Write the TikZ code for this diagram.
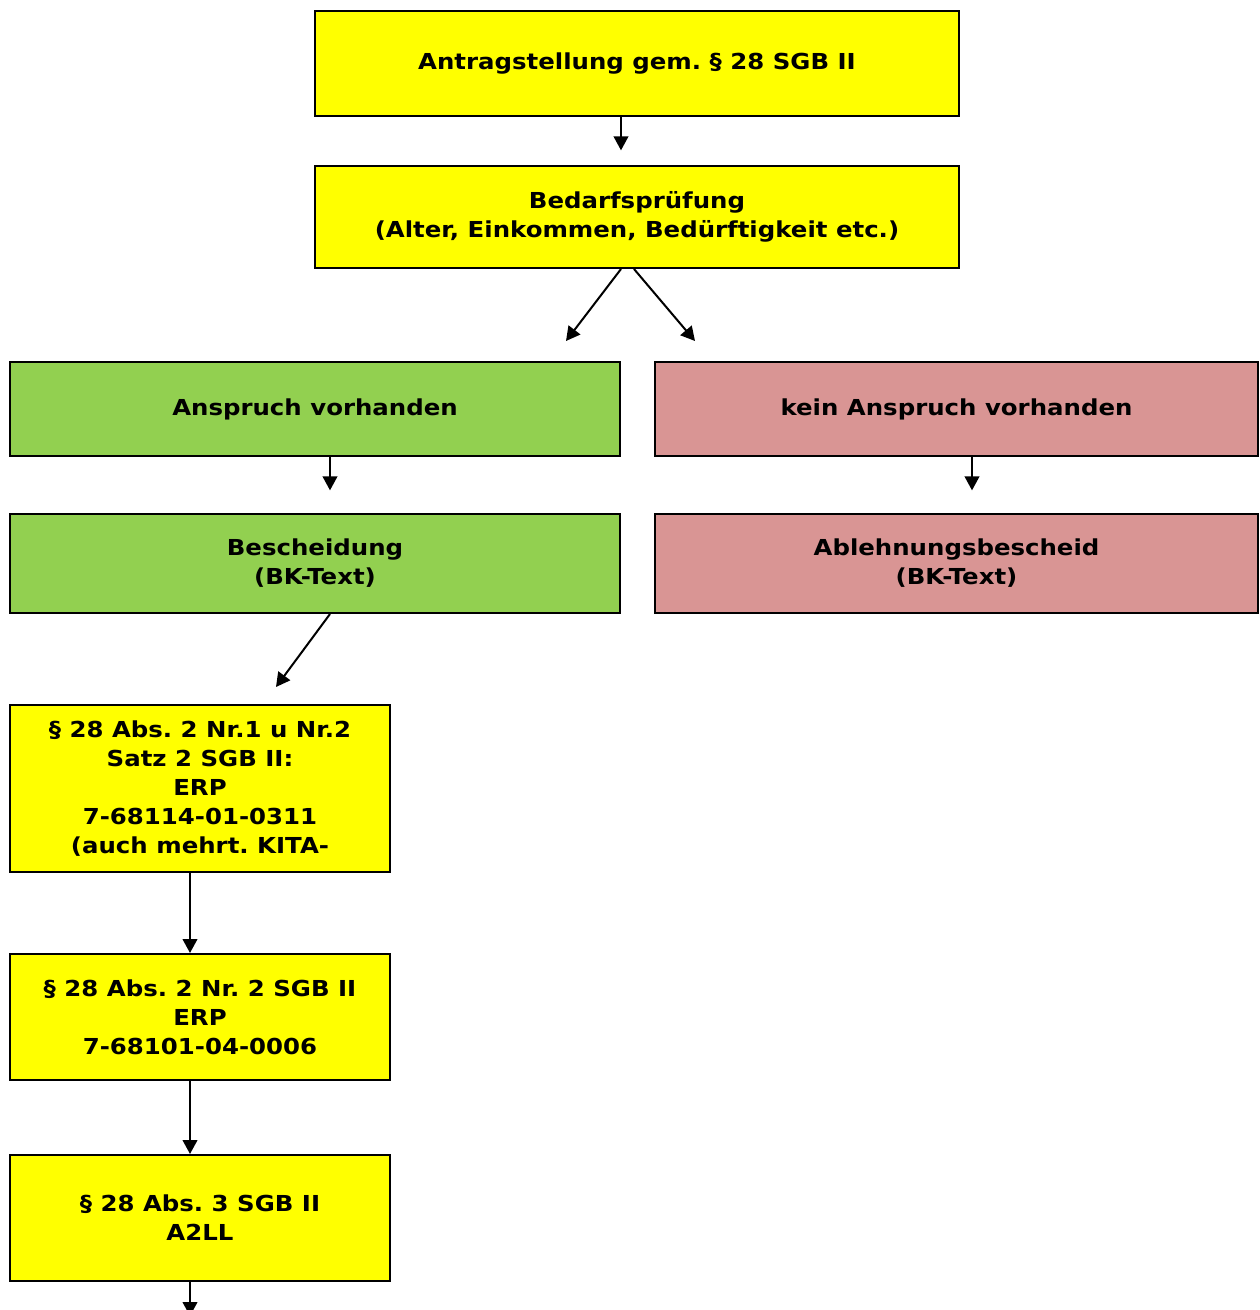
\documentclass[tikz,border=0pt]{standalone}
\usepackage{fontspec}
\setmainfont{DejaVu Sans}[FakeStretch=1.11]
\usepackage{xcolor}
\usetikzlibrary{positioning,arrows.meta,calc}
\definecolor{cYel}{HTML}{FFFF00}
\definecolor{cGrn}{HTML}{92D050}
\definecolor{cRed}{HTML}{D99594}
\tikzset{
  box/.style    ={draw=black, line width=1.5pt, align=center, inner sep=0pt,
                  font=\bfseries\fontsize{16.5}{21.75}\selectfont, text=black},
  yel/.style    ={box, fill=cYel},
  grn/.style    ={box, fill=cGrn},
  red/.style    ={box, fill=cRed},
  wide/.style   ={minimum width=483pt},
  half/.style   ={minimum width=457.5pt},
  halfr/.style  ={minimum width=452.25pt},
  narrow/.style ={minimum width=285pt},
  flow/.style   ={-{Triangle[length=10.5pt,width=11pt]}, line width=1.5pt, draw=black},
}
\frenchspacing

\begin{document}
\begin{tikzpicture}[x=0.75pt, y=-0.75pt]
  \useasboundingbox (0,0) rectangle (1260,1310);

  % ---- top: application + check ----
  \node[yel, wide, minimum height=78.75pt] (antrag) at (637,63.5)
    {Antragstellung gem. \S\ 28 SGB II};
  \node[yel, wide, minimum height=76.5pt] (pruef) at (637,217)
    {Bedarfsprüfung\\(Alter, Einkommen, Bedürftigkeit etc.)};

  % ---- branches ----
  \node[grn, half, minimum height=70.5pt] (ja) at (315,409) {Anspruch vorhanden};
  \node[red, halfr, minimum height=70.5pt] (nein) at (956.5,409) {kein Anspruch vorhanden};
  \node[grn, half, minimum height=74.25pt] (besch) at (315,563.5)
    {Bescheidung\\(BK-Text)};
  \node[red, halfr, minimum height=74.25pt] (ablehn) at (956.5,563.5)
    {Ablehnungsbescheid\\(BK-Text)};

  % ---- legal basis chain ----
  \node[yel, narrow, minimum height=125.25pt] (nr1) at (200,788.5)
    {\S\ 28 Abs. 2 Nr.1 u Nr.2\\Satz 2 SGB II:\\ERP\\7-68114-01-0311\\(auch mehrt. KITA-};
  \node[yel, narrow, minimum height=94.5pt] (nr2) at (200,1017)
    {\S\ 28 Abs. 2 Nr. 2 SGB II\\ERP\\7-68101-04-0006};
  \node[yel, narrow, minimum height=94.5pt] (abs3) at (200,1218)
    {\S\ 28 Abs. 3 SGB II\\A2LL};
  \coordinate (weiter) at (190,1316);

  % ===== edges =====
  \draw[flow, shorten >=11pt] ($(antrag.south)+(-16,0)$) -- ($(pruef.north)+(-16,0)$);
  \draw[flow] ($(pruef.south)+(-16,0)$) -- ($(ja.north)+(251,-20)$);
  \draw[flow] ($(pruef.south)+(-3,0)$) -- ($(nein.north)+(-261.5,-20)$);
  \draw[flow, shorten >=17pt] ($(ja.south)+(15,0)$) -- ($(besch.north)+(15,0)$);
  \draw[flow, shorten >=17pt] ($(nein.south)+(15.5,0)$) -- ($(ablehn.north)+(15.5,0)$);
  \draw[flow] ($(besch.south)+(15,0)$) -- ($(nr1.north)+(76,-17)$);
  \draw[flow] ($(nr1.south)+(-10,0)$) -- ($(nr2.north)+(-10,0)$);
  \draw[flow] ($(nr2.south)+(-10,0)$) -- ($(abs3.north)+(-10,0)$);
  \draw[flow] ($(abs3.south)+(-10,0)$) -- (weiter);

\end{tikzpicture}
\end{document}
